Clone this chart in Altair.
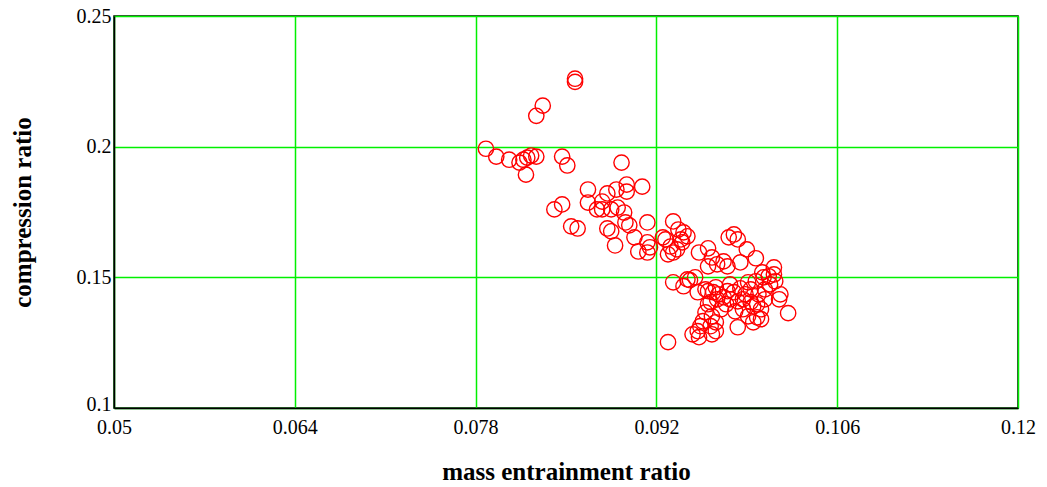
import altair as alt
import pandas as pd

# mass entrainment ratio (x) and compression ratio (y) for each operating point
mass_entrainment = [
    0.0857, 0.0857, 0.0832, 0.0827, 0.0788, 0.0796, 0.0806, 0.0814, 0.0817, 0.0820,
    0.0823, 0.0827, 0.0819, 0.0847, 0.0851, 0.0893, 0.0867, 0.0867, 0.0841, 0.0847,
    0.0854, 0.0859, 0.0878, 0.0882, 0.0889, 0.0897, 0.0897, 0.0909, 0.0874, 0.0878,
    0.0885, 0.0890, 0.0895, 0.0882, 0.0885, 0.0896, 0.0899, 0.0888, 0.0903, 0.0913,
    0.0906, 0.0913, 0.0913, 0.0915, 0.0927, 0.0933, 0.0937, 0.0944, 0.0931, 0.0936,
    0.0929, 0.0940, 0.0941, 0.0925, 0.0933, 0.0939, 0.0953, 0.0960, 0.0963, 0.0960,
    0.0967, 0.0972, 0.0975, 0.0976, 0.0980, 0.0983, 0.0990, 0.0997, 0.0985, 0.1011,
    0.0933, 0.0944, 0.0950, 0.0941, 0.0946, 0.0952, 0.0960, 0.0964, 0.0958, 0.0966,
    0.0968, 0.0975, 0.0980, 0.0985, 0.0991, 0.0997, 0.1003, 0.1007, 0.1011, 0.1012,
    0.1008, 0.1002, 0.0962, 0.0967, 0.0972, 0.0977, 0.0983, 0.0987, 0.0993, 0.0998,
    0.1004, 0.1001, 0.0995, 0.1015, 0.1016, 0.1022, 0.0958, 0.0963, 0.0966, 0.0956,
    0.0954, 0.0952, 0.0948, 0.0953, 0.0963, 0.0966, 0.0962, 0.0983, 0.0995, 0.1001,
    0.0991, 0.0981, 0.0998, 0.0929, 0.0974, 0.0989, 0.0977, 0.0993, 0.0987, 0.1004,
    0.0999, 0.0960, 0.0970,
]
compression = [
    0.2260, 0.2248, 0.2157, 0.2118, 0.1992, 0.1962, 0.1950, 0.1939, 0.1950, 0.1958,
    0.1966, 0.1962, 0.1893, 0.1962, 0.1928, 0.1939, 0.1836, 0.1786, 0.1760, 0.1779,
    0.1695, 0.1687, 0.1790, 0.1821, 0.1836, 0.1855, 0.1828, 0.1847, 0.1760, 0.1760,
    0.1760, 0.1767, 0.1748, 0.1687, 0.1676, 0.1710, 0.1699, 0.1622, 0.1653, 0.1710,
    0.1599, 0.1595, 0.1634, 0.1615, 0.1645, 0.1714, 0.1683, 0.1657, 0.1618, 0.1607,
    0.1588, 0.1634, 0.1672, 0.1653, 0.1595, 0.1645, 0.1595, 0.1611, 0.1576, 0.1542,
    0.1550, 0.1561, 0.1542, 0.1653, 0.1664, 0.1645, 0.1607, 0.1573, 0.1557, 0.1538,
    0.1481, 0.1492, 0.1500, 0.1466, 0.1489, 0.1443, 0.1447, 0.1443, 0.1454, 0.1462,
    0.1435, 0.1447, 0.1443, 0.1458, 0.1481, 0.1485, 0.1500, 0.1504, 0.1511, 0.1485,
    0.1473, 0.1519, 0.1405, 0.1416, 0.1424, 0.1416, 0.1408, 0.1416, 0.1405, 0.1397,
    0.1416, 0.1378, 0.1389, 0.1416, 0.1435, 0.1363, 0.1366, 0.1351, 0.1328, 0.1332,
    0.1313, 0.1294, 0.1282, 0.1271, 0.1282, 0.1294, 0.1313, 0.1309, 0.1328, 0.1340,
    0.1351, 0.1370, 0.1347, 0.1252, 0.1397, 0.1435, 0.1473, 0.1454, 0.1378, 0.1454,
    0.1435, 0.1397, 0.1378,
]

x_ticks = [0.05, 0.064, 0.078, 0.092, 0.106, 0.12]
y_ticks = [0.1, 0.15, 0.2, 0.25]

df = pd.DataFrame({"mer": mass_entrainment, "cr": compression})

serif = "Liberation Serif"

chart = (
    alt.Chart(df)
    .mark_point(shape="circle", filled=False, color="#ff0000", size=235, strokeWidth=1.4, opacity=1)
    .encode(
        x=alt.X(
            "mer:Q",
            scale=alt.Scale(domain=[0.05, 0.12], nice=False, zero=False),
            axis=alt.Axis(
                values=x_ticks,
                title="mass entrainment ratio",
                titleX=452,
                titleY=63,
                titleBaseline="middle",
                labelExpr="datum.value",
                labelFlush=False,
                labelPadding=9,
            ),
        ),
        y=alt.Y(
            "cr:Q",
            scale=alt.Scale(domain=[0.1, 0.25], nice=False, zero=False),
            axis=alt.Axis(
                values=y_ticks,
                title="compression ratio",
                titleX=-92,
                titleY=196,
                titleAngle=-90,
                titleBaseline="middle",
                labelExpr="datum.value",
                labelFlush=False,
                labelPadding=3,
                # lift the bottom label a little so it clears the first x label
                labelOffset={"condition": {"test": "datum.value <= 0.1", "value": -4}, "value": 0},
            ),
        ),
    )
    .properties(
        width=904,
        height=392,
        autosize=alt.AutoSizeParams(type="none"),
        padding={"left": 114, "top": 16, "right": 29, "bottom": 79},
        background="white",
    )
    .configure_view(stroke="black", strokeWidth=1.5)
    .configure_axis(
        grid=True,
        gridColor="#00f000",
        gridWidth=1.5,
        gridOpacity=1,
        domain=True,
        domainColor="black",
        domainWidth=1.5,
        ticks=False,
        labelFont=serif,
        labelFontSize=20,
        labelColor="black",
        titleFont=serif,
        titleFontSize=25,
        titleFontWeight="bold",
        titleColor="black",
    )
)

chart.save("out.html", embed_options={"renderer": "svg", "actions": False})
